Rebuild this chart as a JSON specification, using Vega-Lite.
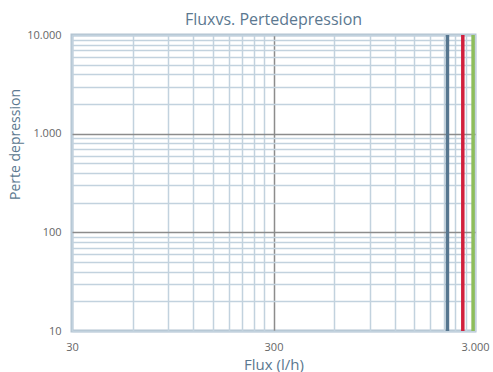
{
  "$schema": "https://vega.github.io/schema/vega-lite/v6.json",
  "width": 403,
  "height": 296,
  "autosize": "none",
  "padding": {"left": 72, "top": 35, "right": 18, "bottom": 41},
  "background": "white",
  "title": {
    "text": "Fluxvs. Pertedepression",
    "font": "Open Sans",
    "fontSize": 16,
    "fontWeight": "normal",
    "color": "#5b7890",
    "anchor": "middle",
    "offset": 1
  },
  "config": {
    "view": {"stroke": "#b3c4d2", "strokeWidth": 3},
    "axis": {
      "labelFont": "Open Sans",
      "titleFont": "Open Sans",
      "labelColor": "#666666",
      "labelFontSize": 11,
      "titleColor": "#5b7890",
      "titleFontWeight": "normal",
      "domain": false,
      "ticks": false,
      "gridWidth": 1.5,
      "gridOpacity": 1
    }
  },
  "data": {
    "values": [
      {"series": "Série 1", "flux": 2190},
      {"series": "Série 2", "flux": 2610},
      {"series": "Série 3", "flux": 2935}
    ]
  },
  "mark": {"type": "rule", "strokeWidth": 3.5},
  "encoding": {
    "x": {
      "field": "flux",
      "type": "quantitative",
      "scale": {"type": "log", "domain": [30, 3000], "nice": false},
      "axis": {
        "title": "Flux (l/h)",
        "titleFontSize": 15,
        "titlePadding": 5,
        "labelPadding": 10,
        "values": [30, 60, 90, 120, 150, 180, 210, 240, 270, 300, 600, 900, 1200, 1500, 1800, 2100, 2400, 2700, 3000],
        "labelExpr": "datum.value == 30 ? '30' : datum.value == 300 ? '300' : datum.value == 3000 ? '3.000' : ''",
        "labelFlush": false,
        "labelOverlap": false,
        "grid": true,
        "gridColor": {"condition": {"test": "datum.value == 300", "value": "#8c8c8c"}, "value": "#c2d2de"}
      }
    },
    "color": {
      "field": "series",
      "type": "nominal",
      "scale": {"domain": ["Série 1", "Série 2", "Série 3"], "range": ["#56768f", "#d11f3c", "#8dbd5c"]},
      "legend": null
    }
  },
  "layer": [
    {
      "mark": {"type": "rule", "strokeWidth": 0, "opacity": 0},
      "encoding": {
        "y": {
          "datum": 10,
          "type": "quantitative",
          "scale": {"type": "log", "domain": [10, 10000], "nice": false},
          "axis": {
            "title": "Perte depression",
            "titleFontSize": 14,
            "titleAngle": -90,
            "titleAlign": "center",
            "titleBaseline": "middle",
            "titleX": -57,
            "titleY": 109,
            "labelPadding": 11,
            "values": [10, 20, 30, 40, 50, 60, 70, 80, 90, 100, 200, 300, 400, 500, 600, 700, 800, 900, 1000, 2000, 3000, 4000, 5000, 6000, 7000, 8000, 9000, 10000],
            "labelExpr": "datum.value == 10 ? '10' : datum.value == 100 ? '100' : datum.value == 1000 ? '1.000' : datum.value == 10000 ? '10.000' : ''",
            "labelOverlap": false,
            "labelFlush": false,
            "grid": true,
            "gridColor": {"condition": {"test": "datum.value == 100 || datum.value == 1000", "value": "#8c8c8c"}, "value": "#c2d2de"}
          }
        }
      }
    },
    {
      "mark": {"type": "rule", "strokeWidth": 3.5},
      "encoding": {}
    }
  ]
}
